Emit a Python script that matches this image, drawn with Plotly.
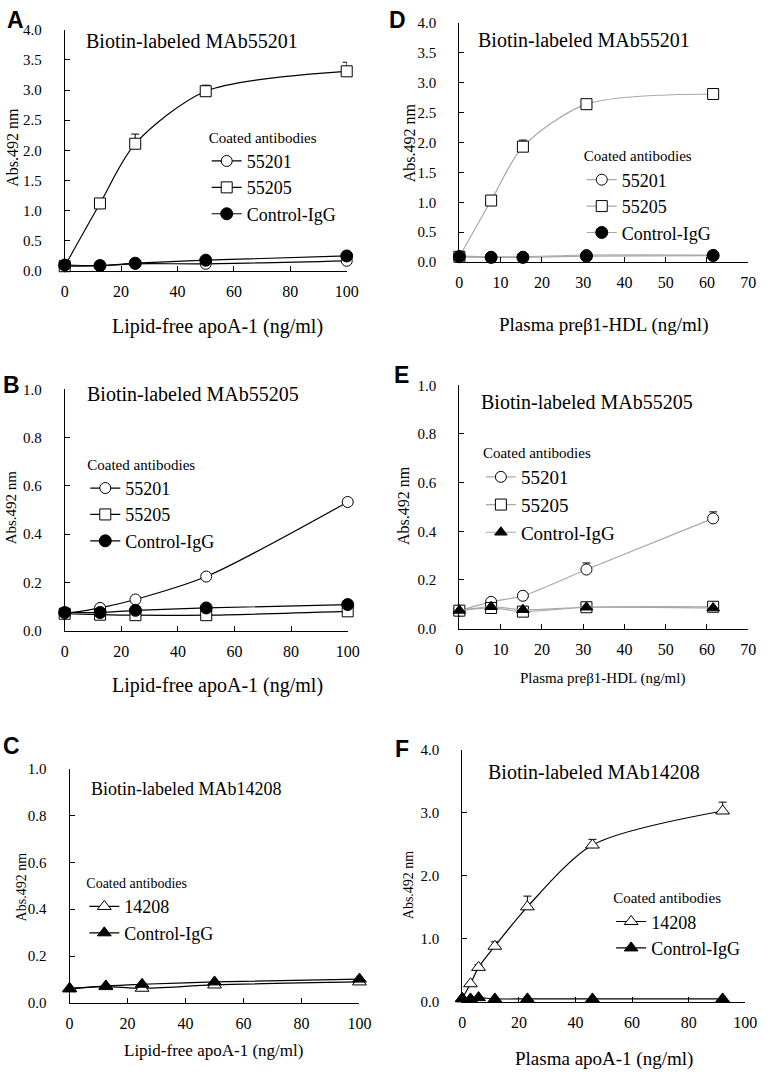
import plotly.graph_objects as go

W, H = 771, 1079
SERIF = "Liberation Serif, Times New Roman, serif"
SANS = "Liberation Sans, Arial, sans-serif"

# ---------------- data ----------------
# Panel A: biotin-labeled MAb55201, lipid-free apoA-1
a_x = [0, 12.5, 25, 50, 100]
a_55201 = [0.08, 0.09, 0.12, 0.12, 0.17]
a_55205 = [0.08, 1.12, 2.11, 2.98, 3.31]
a_55205_err = [0.0, 0.03, 0.16, 0.10, 0.15]
a_ctrl = [0.10, 0.09, 0.13, 0.18, 0.25]

# Panel D: biotin-labeled MAb55201, plasma preβ1-HDL
d_x = [0, 7.7, 15.4, 30.8, 61.5]
d_55201 = [0.10, 0.09, 0.09, 0.12, 0.12]
d_55205 = [0.09, 1.03, 1.93, 2.64, 2.81]
d_55205_err = [0.0, 0.05, 0.11, 0.03, 0.08]
d_ctrl = [0.09, 0.08, 0.08, 0.10, 0.11]

# Panel B: biotin-labeled MAb55205, lipid-free apoA-1
b_x = [0, 12.5, 25, 50, 100]
b_55201 = [0.07, 0.094, 0.129, 0.224, 0.533]
b_55205 = [0.07, 0.066, 0.064, 0.064, 0.08]
b_ctrl = [0.075, 0.075, 0.084, 0.094, 0.108]

# Panel E: biotin-labeled MAb55205, plasma preβ1-HDL
e_x = [0, 7.7, 15.4, 30.8, 61.5]
e_55201 = [0.074, 0.11, 0.135, 0.243, 0.453]
e_55201_err = [0.0, 0.0, 0.0, 0.027, 0.027]
e_55205 = [0.074, 0.085, 0.07, 0.088, 0.09]
e_ctrl = [0.075, 0.09, 0.078, 0.088, 0.085]

# Panel C: biotin-labeled MAb14208, lipid-free apoA-1
c_x = [0, 12.5, 25, 50, 100]
c_14208 = [0.063, 0.07, 0.063, 0.077, 0.09]
c_ctrl = [0.06, 0.073, 0.08, 0.09, 0.102]

# Panel F: biotin-labeled MAb14208, plasma apoA-1
f_x = [0, 2.9, 5.75, 11.5, 23, 46, 92]
f_14208 = [0.06, 0.29, 0.55, 0.885, 1.51, 2.49, 3.03]
f_14208_err = [0.0, 0.0, 0.04, 0.07, 0.17, 0.09, 0.14]
f_ctrl = [0.05, 0.05, 0.07, 0.05, 0.05, 0.05, 0.05]

# ---------------- helpers ----------------
def dx(a, b):
    return [a / W, b / W]

def dy(top, bottom):
    return [1 - bottom / H, 1 - top / H]

def px(x):
    return x / W

def py(y):
    return 1 - y / H

fig = go.Figure()

def add(xs, ys, name, sym, fill, ax, legend, lcolor="black", err=None, size=11):
    kw = {}
    if err is not None:
        kw["error_y"] = dict(type="data", symmetric=False, array=err,
                             arrayminus=[0] * len(err), color="black",
                             thickness=1, width=4)
    fig.add_trace(go.Scatter(
        x=xs, y=ys, name=name, mode="lines+markers",
        line=dict(color=lcolor, width=1.2, shape="spline", smoothing=0.8),
        marker=dict(symbol=sym, size=size, color=fill,
                    line=dict(color="black", width=1)),
        xaxis="x" + ax, yaxis="y" + ax, legend=legend,
        cliponaxis=False, **kw))

GRAY = "#a8a8a8"
# A
add(a_x, a_55201, "55201", "circle", "white", "", "legend")
add(a_x, a_55205, "55205", "square", "white", "", "legend", err=a_55205_err)
add(a_x, a_ctrl, "Control-IgG", "circle", "black", "", "legend", size=12)
# D
add(d_x, d_55201, "55201", "circle", "white", "2", "legend2", lcolor=GRAY)
add(d_x, d_55205, "55205", "square", "white", "2", "legend2", lcolor=GRAY, err=d_55205_err)
add(d_x, d_ctrl, "Control-IgG", "circle", "black", "2", "legend2", lcolor=GRAY, size=12)
# B
add(b_x, b_55201, "55201", "circle", "white", "3", "legend3")
add(b_x, b_55205, "55205", "square", "white", "3", "legend3")
add(b_x, b_ctrl, "Control-IgG", "circle", "black", "3", "legend3", size=12)
# E
add(e_x, e_55201, "55201", "circle", "white", "4", "legend4", lcolor=GRAY, err=e_55201_err)
add(e_x, e_55205, "55205", "square", "white", "4", "legend4", lcolor=GRAY)
add(e_x, e_ctrl, "Control-IgG", "triangle-up", "black", "4", "legend4", lcolor=GRAY)
# C
add(c_x, c_14208, "14208", "triangle-up", "white", "5", "legend5", size=12)
add(c_x, c_ctrl, "Control-IgG", "triangle-up", "black", "5", "legend5", size=12)
# F
add(f_x, f_14208, "14208", "triangle-up", "white", "6", "legend6", err=f_14208_err, size=12)
add(f_x, f_ctrl, "Control-IgG", "triangle-up", "black", "6", "legend6", size=12)

def axis(domain, rng, dtick, fmt, fsize, standoff, anchor):
    return dict(domain=domain, range=rng, dtick=dtick, tick0=0, tickformat=fmt,
                showline=True, linecolor="black", linewidth=1,
                ticks="inside", ticklen=5, tickcolor="black", tickwidth=1,
                showgrid=False, zeroline=False, anchor=anchor,
                ticklabelstandoff=standoff,
                tickfont=dict(family=SERIF, size=fsize, color="black"))

panels = {
    # key: (x px range, y px range(top,bottom), xrange, xdtick, yrange, ydtick)
    "": ((62, 350), (22, 267), [0, 100], 20, [0, 4], 0.5),
    "2": ((465, 760), (15, 258), [0, 70], 10, [0, 4], 0.5),
    "3": ((62, 351), (387, 632), [0, 100], 20, [0, 1], 0.2),
    "4": ((465, 760), (383, 630), [0, 70], 10, [0, 1], 0.2),
    "5": ((67, 363), (772, 1010), [0, 100], 20, [0, 1], 0.2),
    "6": ((468, 757), (753, 1009), [0, 100], 20, [0, 4], 1.0),
}
layout_axes = {}
for k, (xp, yp, xr, xd, yr, yd) in panels.items():
    layout_axes["xaxis" + k] = axis(dx(*xp), xr, xd, "d", 16, 6, "y" + k)
    layout_axes["yaxis" + k] = axis(dy(*yp), yr, yd, ".1f", 15, 19, "x" + k)

fig.update_layout(**layout_axes)

def legend(left, top, tfs, ifs):
    return dict(x=px(left), y=py(top), xanchor="left", yanchor="top",
                bgcolor="rgba(0,0,0,0)", borderwidth=0,
                title=dict(text="Coated antibodies", side="top",
                           font=dict(family=SERIF, size=tfs, color="black")),
                font=dict(family=SERIF, size=ifs, color="black"),
                itemwidth=30, traceorder="normal", tracegroupgap=0)

fig.update_layout(
    legend=legend(207, 117, 15, 18),
    legend2=legend(590, 136, 15, 18),
    legend3=legend(83, 449, 15, 18),
    legend4=legend(487, 437, 15, 19),
    legend5=legend(82, 875, 14, 18),
    legend6=legend(620, 889, 15, 18),
)

ann = []
def text(x, y, s, size, family=SERIF, bold=False, angle=0, xanchor="center"):
    ann.append(dict(x=px(x), y=py(y), xref="paper", yref="paper", text=("<b>%s</b>" % s) if bold else s,
                    showarrow=False, xanchor=xanchor, yanchor="middle", textangle=angle,
                    font=dict(family=family, size=size, color="black")))

# panel letters
for s, x, y in [("A", 12, 12), ("D", 402, 12), ("B", 8, 383), ("E", 406, 373), ("C", 8, 749), ("F", 406, 752)]:
    text(x, y, s, 23, family=SANS, bold=True)

# panel titles
text(192, 33, "Biotin-labeled MAb55201", 20)
text(592, 32, "Biotin-labeled MAb55201", 20)
text(193, 392, "Biotin-labeled MAb55205", 20)
text(595, 400, "Biotin-labeled MAb55205", 20)
text(186, 793, "Biotin-labeled MAb14208", 18)
text(602, 775, "Biotin-labeled MAb14208", 20)

# y titles
text(9, 141, "Abs.492 nm", 16, angle=-90)
text(415, 137, "Abs.492 nm", 16, angle=-90)
text(8, 507, "Abs.492 nm", 15, angle=-90)
text(408, 505, "Abs.492 nm", 16, angle=-90)
text(18, 892, "Abs.492 nm", 14, angle=-90)
text(413, 890, "Abs.492 nm", 14, angle=-90)

# x titles
text(218, 323, "Lipid-free apoA-1 (ng/ml)", 20)
text(612, 322, "Plasma preβ1-HDL (ng/ml)", 19)
text(218, 688, "Lipid-free apoA-1 (ng/ml)", 20)
text(611, 681, "Plasma preβ1-HDL (ng/ml)", 15)
text(214, 1058, "Lipid-free apoA-1 (ng/ml)", 17)
text(613, 1067, "Plasma apoA-1 (ng/ml)", 19)

fig.update_layout(annotations=ann, width=W, height=H,
                  margin=dict(l=0, r=0, t=0, b=0),
                  paper_bgcolor="white", plot_bgcolor="white",
                  font=dict(family=SERIF, color="black"),
                  showlegend=True)

fig.write_html("out.html", config={"displayModeBar": False},
               post_script="document.body.style.margin='0';document.body.style.overflow='hidden';")
